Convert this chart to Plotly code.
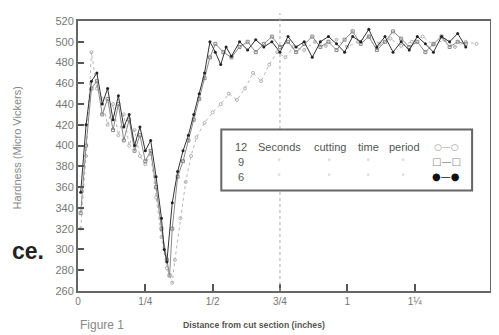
import plotly.graph_objects as go

# ---- data ----
x_12 = [0.01, 0.03, 0.05, 0.07, 0.09, 0.11, 0.13, 0.15, 0.17, 0.19, 0.21, 0.23, 0.25, 0.27,
        0.29, 0.31, 0.33, 0.35, 0.36, 0.38, 0.40, 0.42, 0.44, 0.47, 0.50, 0.53, 0.56, 0.59,
        0.62, 0.65, 0.68, 0.71, 0.74, 0.77, 0.80, 0.84, 0.88, 0.92, 0.96, 1.00, 1.04, 1.08,
        1.12, 1.16, 1.20, 1.24, 1.28, 1.32, 1.36, 1.40, 1.44, 1.48]
y_12 = [320, 390, 490, 455, 445, 420, 440, 410, 430, 400, 415, 390, 382, 392,
        350, 312, 282, 268, 290, 330, 365, 390, 408, 422, 432, 440, 450, 444,
        455, 470, 462, 478, 490, 485, 495, 492, 500, 496, 502, 495, 500, 505,
        498, 503, 496, 500, 505, 497, 502, 495, 500, 498]

x_9 = [0.01, 0.03, 0.05, 0.07, 0.09, 0.11, 0.13, 0.15, 0.17, 0.19, 0.21, 0.23, 0.25, 0.27,
       0.29, 0.31, 0.33, 0.34, 0.35, 0.37, 0.39, 0.41, 0.43, 0.45, 0.47, 0.49, 0.51, 0.54,
       0.57, 0.60, 0.63, 0.66, 0.69, 0.72, 0.75, 0.78, 0.81, 0.84, 0.87, 0.90, 0.93, 0.96,
       0.99, 1.02, 1.05, 1.08, 1.11, 1.14, 1.17, 1.20, 1.23, 1.26, 1.29, 1.32, 1.35, 1.38,
       1.41, 1.44]
y_9 = [335, 400, 455, 462, 430, 445, 415, 440, 405, 425, 395, 410, 385, 395,
       360, 320, 290, 275, 320, 370, 385, 405, 425, 445, 465, 485, 498, 490,
       485, 495, 500, 490, 498, 505, 495, 500, 490, 498, 505, 495, 500, 492,
       502, 510, 498, 505, 492, 500, 510, 503, 495, 500, 490, 498, 505, 495,
       500, 498]

x_6 = [0.01, 0.03, 0.05, 0.07, 0.09, 0.11, 0.13, 0.15, 0.17, 0.19, 0.21, 0.23, 0.25, 0.27,
       0.29, 0.31, 0.32, 0.33, 0.35, 0.37, 0.39, 0.41, 0.43, 0.45, 0.47, 0.49, 0.51, 0.53,
       0.55, 0.57, 0.60, 0.63, 0.66, 0.69, 0.72, 0.75, 0.78, 0.81, 0.84, 0.87, 0.90, 0.93,
       0.96, 0.99, 1.02, 1.05, 1.08, 1.11, 1.14, 1.17, 1.20, 1.23, 1.26, 1.29, 1.32, 1.35,
       1.38, 1.41, 1.44]
y_6 = [355, 420, 462, 470, 440, 455, 425, 448, 418, 430, 400, 418, 395, 405,
       370, 330, 300, 288, 345, 375, 395, 410, 430, 450, 470, 500, 490, 478,
       495, 486, 500, 492, 502, 495, 500, 490, 505, 495, 500, 485, 500, 505,
       498, 490, 505, 500, 512, 495, 505, 490, 500, 492, 505, 498, 490, 505,
       500, 508, 495]

x_tick_vals = [0, 0.25, 0.5, 0.75, 1.0, 1.25]
x_tick_text = ["0", "1/4", "1/2", "3/4", "1", "1¼"]
y_tick_vals = list(range(260, 521, 20))

legend_words = ["12", "Seconds", "cutting", "time", "period"]
legend_rows = ["9", "6"]

fig = go.Figure()
fig.add_trace(go.Scatter(x=x_12, y=y_12, mode="lines+markers",
                         line=dict(color="#b8b8b8", width=1, dash="dot"),
                         marker=dict(size=3, color="#b0b0b0", symbol="circle-open"),
                         showlegend=False))
fig.add_trace(go.Scatter(x=x_9, y=y_9, mode="lines+markers",
                         line=dict(color="#888888", width=1),
                         marker=dict(size=3, color="#888888", symbol="square-open"),
                         showlegend=False))
fig.add_trace(go.Scatter(x=x_6, y=y_6, mode="lines+markers",
                         line=dict(color="#333333", width=1),
                         marker=dict(size=3, color="#222222", symbol="circle"),
                         showlegend=False))

# plot area in page pixels: x 78..492, y 17..291 (page body has an 8px margin)
PL, PR, PT, PB = 78, 492, 17, 291


def px(xp):
    return (xp - PL) / (PR - PL)


def py(yp):
    return (PB - yp) / (PB - PT)


# vertical dotted reference line at 3/4
fig.add_shape(type="line", xref="x", yref="paper", x0=0.75, x1=0.75, y0=0, y1=py(9),
              line=dict(color="#aaaaaa", width=1, dash="dot"))

# legend box
fig.add_shape(type="rect", xref="paper", yref="paper",
              x0=px(222), x1=px(474), y0=py(189), y1=py(127),
              line=dict(color="#666666", width=2), fillcolor="white", layer="above")

ann = []
tf = dict(family="Liberation Sans, Arial", size=11, color="#555555")


def add(xp, yp, text, font, **kw):
    d = dict(xref="paper", yref="paper", x=px(xp), y=py(yp), text=text, showarrow=False,
             xanchor=kw.pop("xanchor", "center"), yanchor="middle", font=font)
    d.update(kw)
    ann.append(d)


for xw, w in zip([242, 280, 331, 370, 406], legend_words):
    add(xw, 145, w, tf)
add(448, 145, "○—○", dict(family="DejaVu Sans", size=9, color="#999999"))
for yy, lab, sym, col in [(160, legend_rows[0], "□—□", "#888888"),
                          (175, legend_rows[1], "●—●", "#111111")]:
    add(242, yy, lab, tf)
    for xd in [280, 330, 369, 405]:
        add(xd, yy - 2, "〃", dict(family="DejaVu Sans", size=6, color="#aaaaaa"))
    add(448, yy, sym, dict(family="DejaVu Sans", size=10, color=col))

# captions
add(255, 326, "Distance from cut section (inches)",
    dict(family="Liberation Sans, Arial", size=8.7, color="#555555", weight="bold"))
add(102, 326, "Figure 1", dict(family="Liberation Sans, Arial", size=12, color="#888888"))
add(17, 146, "Hardness (Micro Vickers)",
    dict(family="Liberation Sans, Arial", size=11, color="#888888"), textangle=-90)
add(10, 250, "ce.", dict(family="Liberation Sans, Arial", size=23, color="#222222",
                         weight="bold"), xanchor="left")

W, H = 491, 327  # fits the 499x335 window after the 8px body margin
fig.update_layout(
    width=W, height=H,
    margin=dict(l=PL - 8, r=W - (PR - 8), t=PT - 8, b=H - (PB - 8)),
    paper_bgcolor="white", plot_bgcolor="white",
    annotations=ann,
    xaxis=dict(range=[0, 1.53], tickvals=x_tick_vals, ticktext=x_tick_text,
               ticks="inside", ticklen=7, tickwidth=2, tickcolor="#555555",
               showline=True, linecolor="#666666", linewidth=2, mirror=True,
               showgrid=False, zeroline=False,
               tickfont=dict(family="Liberation Sans, Arial", size=10, color="#777777")),
    yaxis=dict(range=[260, 520], tickvals=y_tick_vals,
               ticks="inside", ticklen=6, tickwidth=1.5, tickcolor="#555555",
               showline=True, linecolor="#666666", linewidth=2, mirror=True,
               showgrid=False, zeroline=False,
               tickfont=dict(family="Liberation Sans, Arial", size=11, color="#777777")),
)

fig.write_html("out.html")
